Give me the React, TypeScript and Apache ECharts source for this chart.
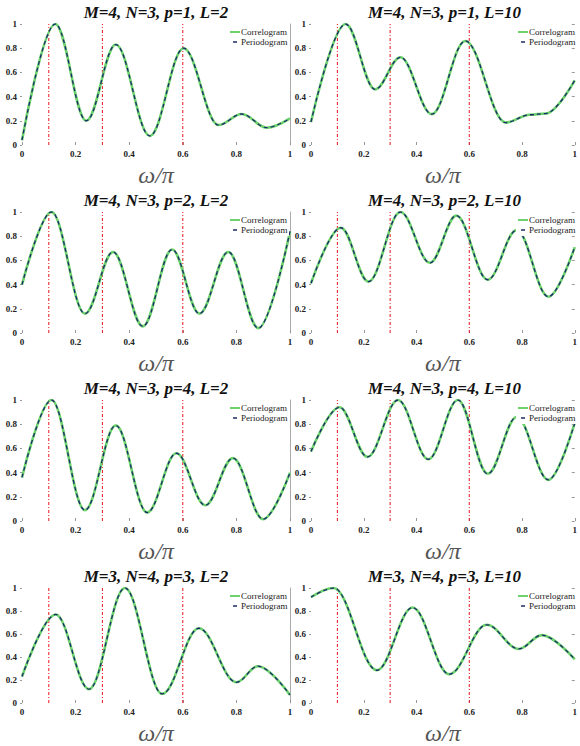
import React, { useEffect, useRef } from 'react';
import * as echarts from 'echarts';

const panelTitles = [
  'M=4, N=3, p=1, L=2',
  'M=4, N=3, p=1, L=10',
  'M=4, N=3, p=2, L=2',
  'M=4, N=3, p=2, L=10',
  'M=4, N=3, p=4, L=2',
  'M=4, N=3, p=4, L=10',
  'M=3, N=4, p=3, L=2',
  'M=3, N=4, p=3, L=10',
];
const seriesNames = ['Correlogram', 'Periodogram'];
const axisName = 'ω/π';
const markerFreqs = [0.1, 0.3, 0.6];

// normalized frequency (ω/π) and normalized spectrum values, read at extrema
const freq1 = [0, 0.124, 0.24, 0.35, 0.477, 0.603, 0.733, 0.82, 0.913, 1];
const spec1 = [0.04, 1.0, 0.2, 0.83, 0.075, 0.8, 0.165, 0.256, 0.143, 0.22];
const freq2 = [0, 0.131, 0.243, 0.339, 0.458, 0.585, 0.738, 0.83, 0.89, 1];
const spec2 = [0.19, 1.0, 0.46, 0.725, 0.255, 0.86, 0.185, 0.25, 0.26, 0.535];
const freq3 = [0, 0.11, 0.235, 0.34, 0.451, 0.56, 0.662, 0.77, 0.882, 1];
const spec3 = [0.4, 1.0, 0.16, 0.67, 0.055, 0.69, 0.16, 0.67, 0.04, 0.84];
const freq4 = [0, 0.113, 0.218, 0.339, 0.451, 0.551, 0.67, 0.78, 0.9, 1];
const spec4 = [0.41, 0.87, 0.425, 1.0, 0.58, 0.97, 0.44, 0.85, 0.3, 0.71];
const freq5 = [0, 0.11, 0.235, 0.35, 0.467, 0.576, 0.684, 0.787, 0.9, 1];
const spec5 = [0.36, 1.0, 0.09, 0.79, 0.07, 0.56, 0.13, 0.52, 0.015, 0.4];
const freq6 = [0, 0.108, 0.214, 0.33, 0.445, 0.557, 0.67, 0.78, 0.9, 1];
const spec6 = [0.575, 0.94, 0.53, 1.0, 0.51, 1.0, 0.39, 0.86, 0.34, 0.81];
const freq7 = [0, 0.126, 0.25, 0.384, 0.523, 0.66, 0.8, 0.88, 1];
const spec7 = [0.23, 0.77, 0.12, 1.0, 0.08, 0.65, 0.18, 0.32, 0.07];
const freq8 = [0, 0.086, 0.25, 0.385, 0.524, 0.666, 0.788, 0.875, 1];
const spec8 = [0.92, 1.0, 0.285, 0.83, 0.25, 0.68, 0.47, 0.59, 0.38];

const freqs = [freq1, freq2, freq3, freq4, freq5, freq6, freq7, freq8];
const specs = [spec1, spec2, spec3, spec4, spec5, spec6, spec7, spec8];

const SERIF = '"Liberation Serif", "Times New Roman", serif';
const colLeft = [22, 311];
const colWidth = [268, 267];
const rowTop = [24, 212, 400, 588];
const gridHeight = 121;
const GREEN = '#6dd36d';
const NAVY = '#1b2a6b';
const RED = '#e8141c';

export default function App() {
  const ref = useRef<HTMLDivElement>(null);

  useEffect(() => {
    if (!ref.current) return;
    const chart = echarts.init(ref.current, undefined, { renderer: 'svg' });

    const grid: any[] = [];
    const xAxis: any[] = [];
    const yAxis: any[] = [];
    const series: any[] = [];
    const graphic: any[] = [];

    panelTitles.forEach((title, i) => {
      const row = Math.floor(i / 2);
      const col = i % 2;
      const left = colLeft[col];
      const width = colWidth[col];
      const top = rowTop[row];
      const right = left + width;
      grid.push({ left, top, width, height: gridHeight, containLabel: false });

      xAxis.push({
        gridIndex: i,
        type: 'value',
        min: 0,
        max: 1,
        interval: 0.2,
        name: axisName,
        nameLocation: 'middle',
        nameGap: 18,
        nameTextStyle: { fontFamily: SERIF, fontStyle: 'italic', fontSize: 24, color: '#555' },
        axisLine: { show: false },
        axisTick: { show: true, inside: true, length: 3, lineStyle: { color: '#999' } },
        splitLine: { show: false },
        axisLabel: { fontFamily: SERIF, fontWeight: 'bold', fontSize: 9, color: '#222', margin: 4 },
      });
      yAxis.push({
        gridIndex: i,
        type: 'value',
        min: 0,
        max: 1,
        interval: 0.2,
        axisLine: { show: false },
        axisTick: { show: true, inside: false, length: 2, lineStyle: { color: '#999' } },
        splitLine: { show: false },
        axisLabel: { fontFamily: SERIF, fontWeight: 'bold', fontSize: 9, color: '#222', margin: 5 },
      });
      yAxis.push({
        gridIndex: i,
        type: 'value',
        position: 'right',
        min: 0,
        max: 1,
        interval: 0.2,
        axisLine: { show: col === 0, lineStyle: { color: '#aaa', width: 1 } },
        axisTick: { show: col === 1, inside: true, length: 3, lineStyle: { color: '#999' } },
        axisLabel: { show: false },
        splitLine: { show: false },
      });

      // red dash-dot reference frequencies
      markerFreqs.forEach((f) => {
        series.push({
          type: 'line',
          name: 'marker',
          xAxisIndex: i,
          yAxisIndex: i * 2,
          data: [
            [f, 0],
            [f, 1],
          ],
          symbol: 'none',
          showSymbol: false,
          silent: true,
          lineStyle: { color: RED, width: 1, type: [3, 2, 1, 2] },
          z: 1,
        });
      });

      const data = freqs[i].map((f, k) => [f, specs[i][k]]);
      series.push({
        type: 'line',
        name: seriesNames[0],
        xAxisIndex: i,
        yAxisIndex: i * 2,
        data,
        symbol: 'none',
        showSymbol: false,
        smooth: 0.36,
        smoothMonotone: 'x',
        lineStyle: { color: GREEN, width: 2.6 },
        z: 2,
      });
      series.push({
        type: 'line',
        name: seriesNames[1],
        xAxisIndex: i,
        yAxisIndex: i * 2,
        data,
        symbol: 'none',
        showSymbol: false,
        smooth: 0.36,
        smoothMonotone: 'x',
        lineStyle: { color: NAVY, width: 1.3, type: [4, 3] },
        z: 3,
      });

      graphic.push({
        type: 'text',
        x: left + width / 2,
        y: top - 12,
        z: 100,
        style: {
          text: title,
          fontFamily: SERIF,
          fontSize: 17,
          fontWeight: 'bold',
          fontStyle: 'italic',
          fill: '#111',
          textAlign: 'center',
          textVerticalAlign: 'middle',
        },
      });
      // legend box
      graphic.push({
        type: 'rect',
        shape: { x: right - 62, y: top + 2, width: 61, height: 22 },
        style: { fill: '#fff' },
        z: 99,
      });
      graphic.push({
        type: 'line',
        shape: { x1: right - 60, y1: top + 8, x2: right - 50, y2: top + 8 },
        style: { stroke: GREEN, lineWidth: 2 },
        z: 100,
      });
      graphic.push({
        type: 'line',
        shape: { x1: right - 57, y1: top + 18, x2: right - 53, y2: top + 18 },
        style: { stroke: NAVY, lineWidth: 1.5 },
        z: 100,
      });
      seriesNames.forEach((nm, k) => {
        graphic.push({
          type: 'text',
          x: right - 49,
          y: top + 8 + k * 10,
          z: 100,
          style: {
            text: nm,
            fontFamily: SERIF,
            fontSize: 9,
            fill: '#222',
            textAlign: 'left',
            textVerticalAlign: 'middle',
          },
        });
      });
    });

    chart.setOption({
      animation: false,
      backgroundColor: '#fff',
      textStyle: { fontFamily: SERIF },
      grid,
      xAxis,
      yAxis,
      series,
      graphic,
    });

    return () => chart.dispose();
  }, []);

  return (
    <div
      ref={ref}
      style={{ position: 'absolute', left: 0, top: 0, width: 580, height: 746, background: '#fff' }}
    />
  );
}
